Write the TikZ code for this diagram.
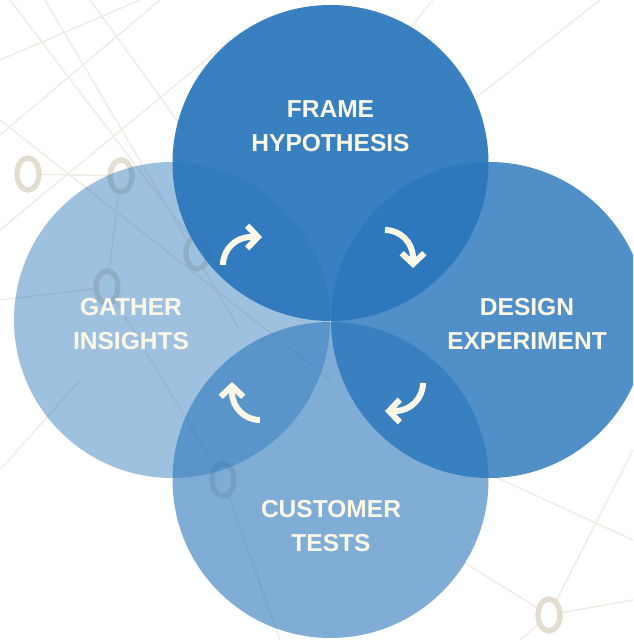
\documentclass[tikz,border=0pt]{standalone}
\usepackage{fontspec}
\setmainfont{Liberation Sans}
\usetikzlibrary{arrows.meta}
\definecolor{petalblue}{HTML}{2A76BB}
\definecolor{cream}{HTML}{FCF8E8}
\definecolor{netline}{HTML}{F0EDE6}
\definecolor{netring}{HTML}{E2DDCF}
\tikzset{
  petal/.style={circle,minimum size=237pt,inner sep=0pt,fill=petalblue},
  petaltext/.style={text=cream,font=\bfseries\fontsize{18.4}{25.5}\selectfont,align=center},
  cyclearrow/.style={draw=cream,line width=4.5pt,-{Straight Barb[length=8pt,width=17pt]}},
  netring/.style={draw=netring,fill=white,line width=4pt},
}
\begin{document}
\begin{tikzpicture}[x=0.75pt,y=0.75pt]
    \useasboundingbox (0,0) rectangle (633,640);
    \clip (0,0) rectangle (633,640);
    % faint network behind the petals
    \foreach \xa/\ya/\xb/\yb in {10/640/200/390, 45/640/240/310, 90/640/300/350,
        0/580/140/640, 0/505/160/640, 0/410/230/600, 0/520/330/260,
        28/466/121/464, 121/464/107/353, 0/340/107/353, 107/353/223/160,
        0/170/80/260, 410/612/433/640, 477/543/600/640, 549/25/633/190,
        549/25/633/40, 549/25/460/80, 480/170/633/100, 549/25/520/0, 223/160/280/0}
        \draw[netline,line width=1.2pt] (\xa,\ya) -- (\xb,\yb);
    \foreach \x/\y in {28/466, 121/464, 107/353, 197/387, 223/160, 549/25}
        \draw[netring] (\x,\y) ellipse[x radius=11,y radius=16];
    % the four petals
    \node[petal,fill opacity=0.45] (gather) at (172,320) {};
    \node[petal,fill opacity=0.93] (frame) at (330.5,477) {};
    \node[petal,fill opacity=0.82] (design) at (489,320) {};
    \node[petal,fill opacity=0.6] (customer) at (330.5,160) {};
    \node[petaltext] (frametext) at (330.5,514) {FRAME\\HYPOTHESIS};
    \node[petaltext] (designtext) at (527,316) {DESIGN\\EXPERIMENT};
    \node[petaltext] (customertext) at (331,113.5) {CUSTOMER\\TESTS};
    \node[petaltext] (gathertext) at (131,316) {GATHER\\INSIGHTS};
    % arrows round the middle
    \draw[cyclearrow] (223,375) arc[start angle=180,end angle=90,radius=28] -- ++(11,0);
    \draw[cyclearrow] (385,410) arc[start angle=90,end angle=0,radius=28] -- ++(0,-10);
    \draw[cyclearrow] (423,257) arc[start angle=0,end angle=-90,radius=28] -- ++(-10,0);
    \draw[cyclearrow] (260,220) arc[start angle=270,end angle=180,radius=28] -- ++(0,10);
\end{tikzpicture}
\end{document}
